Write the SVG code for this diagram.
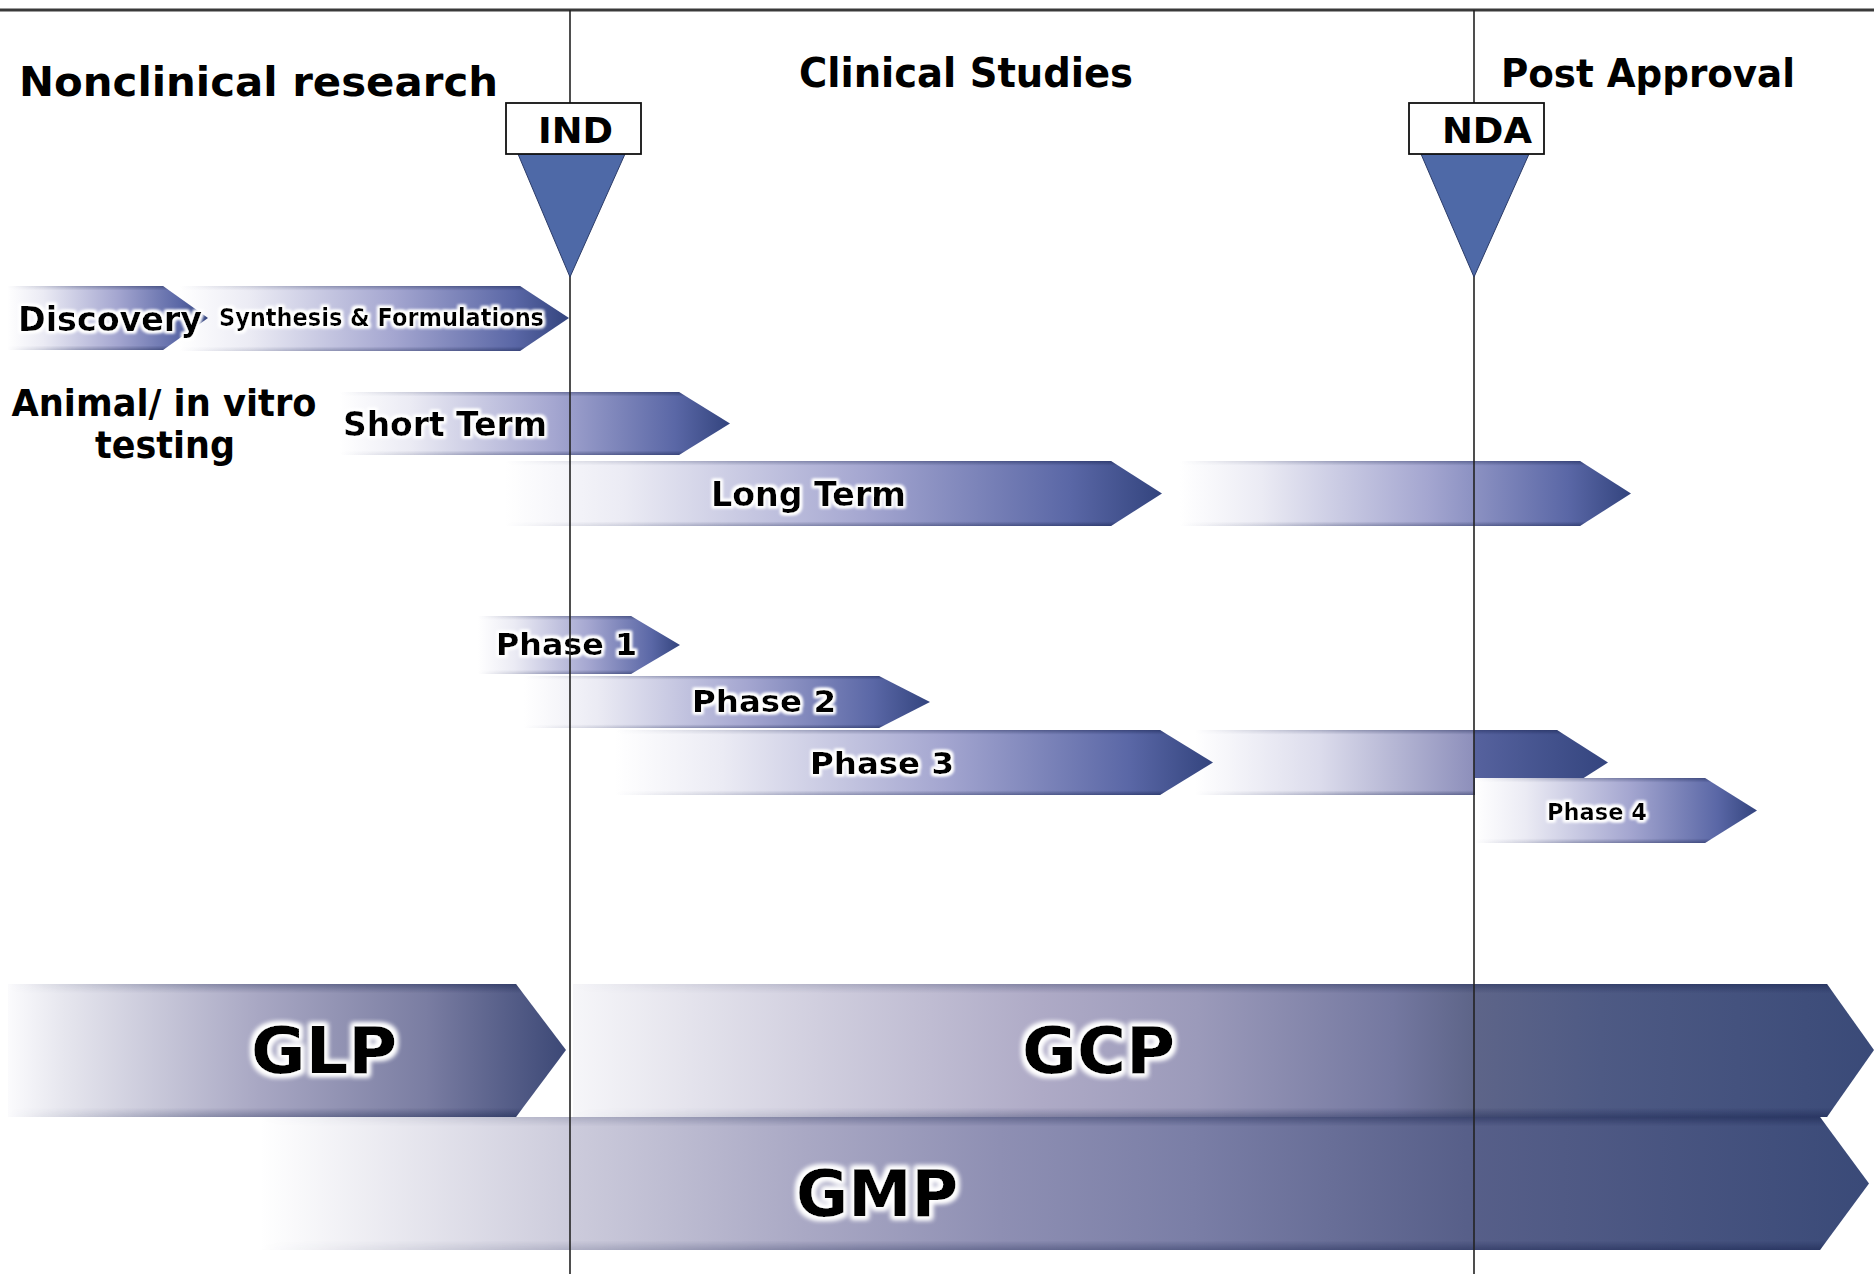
<svg xmlns="http://www.w3.org/2000/svg" width="1874" height="1274" viewBox="0 0 1874 1274">
  <style>
    .t { font-family: "DejaVu Sans", "Liberation Sans", Arial, sans-serif; font-weight: bold; fill: #000; }
    .lbl { filter: url(#glow); }
    .big { filter: url(#glowBig); }
    .edge { fill: url(#edgeShade); }
    .rule { stroke: #222; stroke-width: 1.6; fill: none; }
    .mark { fill: #4e69a7; stroke: #2b3b68; stroke-width: 1; }
    .box { fill: #fff; stroke: #111; stroke-width: 1.8; }
  </style>
  <defs>
    <!-- small phase bars: white to blue-violet to navy -->
    <linearGradient id="barGrad" x1="0" y1="0" x2="1" y2="0">
      <stop offset="0" stop-color="#ffffff"/>
      <stop offset="0.18" stop-color="#ebebf4"/>
      <stop offset="0.55" stop-color="#a4a6d0"/>
      <stop offset="0.86" stop-color="#5a67a6"/>
      <stop offset="1" stop-color="#33447e"/>
    </linearGradient>
    <linearGradient id="extGrad" x1="0" y1="0" x2="1" y2="0">
      <stop offset="0" stop-color="#ffffff"/>
      <stop offset="0.3" stop-color="#dcdcec"/>
      <stop offset="0.675" stop-color="#8d8fbb"/>
      <stop offset="0.677" stop-color="#56629e"/>
      <stop offset="1" stop-color="#34457f"/>
    </linearGradient>
    <linearGradient id="glpGrad" x1="0" y1="0" x2="1" y2="0">
      <stop offset="0" stop-color="#fbfbfd"/>
      <stop offset="0.1" stop-color="#e6e6ee"/>
      <stop offset="0.45" stop-color="#a8a7c3"/>
      <stop offset="0.75" stop-color="#7a7da2"/>
      <stop offset="1" stop-color="#3c4876"/>
    </linearGradient>
    <linearGradient id="gcpGrad" x1="0" y1="0" x2="1" y2="0">
      <stop offset="0" stop-color="#f6f6f9"/>
      <stop offset="0.36" stop-color="#aeaac6"/>
      <stop offset="0.48" stop-color="#9b9aba"/>
      <stop offset="0.63" stop-color="#7478a0"/>
      <stop offset="0.69" stop-color="#5e6589"/>
      <stop offset="0.79" stop-color="#4e5a84"/>
      <stop offset="1" stop-color="#3a4a78"/>
    </linearGradient>
    <linearGradient id="gmpGrad" x1="0" y1="0" x2="1" y2="0">
      <stop offset="0" stop-color="#ffffff"/>
      <stop offset="0.19" stop-color="#cdccdc"/>
      <stop offset="0.34" stop-color="#a9a8c4"/>
      <stop offset="0.46" stop-color="#8e8fb3"/>
      <stop offset="0.58" stop-color="#7a7ea6"/>
      <stop offset="0.75" stop-color="#575f89"/>
      <stop offset="1" stop-color="#3a4a78"/>
    </linearGradient>
    <!-- darker bevel along the top and bottom edges of each bar -->
    <linearGradient id="edgeShade" x1="0" y1="0" x2="0" y2="1">
      <stop offset="0" stop-color="#1a2550" stop-opacity="0.55"/>
      <stop offset="0.07" stop-color="#1a2550" stop-opacity="0"/>
      <stop offset="0.93" stop-color="#1a2550" stop-opacity="0"/>
      <stop offset="1" stop-color="#1a2550" stop-opacity="0.55"/>
    </linearGradient>
    <linearGradient id="fadeLum" x1="0" y1="0" x2="1" y2="0">
      <stop offset="0" stop-color="#000"/>
      <stop offset="0.35" stop-color="#888"/>
      <stop offset="1" stop-color="#fff"/>
    </linearGradient>
    <mask id="fade" maskContentUnits="objectBoundingBox">
      <rect width="1" height="1" fill="url(#fadeLum)"/>
    </mask>
    <filter id="glow" x="-8%" y="-30%" width="116%" height="160%">
      <feMorphology in="SourceAlpha" operator="dilate" radius="1.5" result="d"/>
      <feGaussianBlur in="d" stdDeviation="1.8" result="b"/>
      <feFlood flood-color="#ffffff"/>
      <feComposite in2="b" operator="in" result="g"/>
      <feMerge><feMergeNode in="g"/><feMergeNode in="g"/><feMergeNode in="SourceGraphic"/></feMerge>
    </filter>
    <filter id="glowBig" x="-10%" y="-30%" width="120%" height="160%">
      <feMorphology in="SourceAlpha" operator="dilate" radius="2.5" result="d"/>
      <feGaussianBlur in="d" stdDeviation="2.5" result="b"/>
      <feFlood flood-color="#ffffff"/>
      <feComposite in2="b" operator="in" result="g"/>
      <feMerge><feMergeNode in="g"/><feMergeNode in="g"/><feMergeNode in="SourceGraphic"/></feMerge>
    </filter>
  </defs>

  <rect width="1874" height="1274" fill="#ffffff"/>

  <!-- section headings -->
  <g id="title-nonclinical">
    <text class="t" x="19" y="96" font-size="40" textLength="479" lengthAdjust="spacingAndGlyphs">Nonclinical research</text>
  </g>
  <g id="title-clinical">
    <text class="t" x="799" y="87" font-size="40" textLength="334" lengthAdjust="spacingAndGlyphs">Clinical Studies</text>
  </g>
  <g id="title-post">
    <text class="t" x="1501" y="87" font-size="39" textLength="294" lengthAdjust="spacingAndGlyphs">Post Approval</text>
  </g>
  <g id="title-animal">
    <text class="t" x="164" y="416" font-size="38" text-anchor="middle" textLength="305" lengthAdjust="spacingAndGlyphs">Animal/ in vitro</text>
    <text class="t" x="165" y="458" font-size="38" text-anchor="middle" textLength="140" lengthAdjust="spacingAndGlyphs">testing</text>
  </g>

  <!-- drug discovery -->
  <g id="bar-synthesis">
    <path d="M180,286 H520 L569,318 L520,351 H180 Z" fill="url(#barGrad)"/>
    <path class="edge" mask="url(#fade)" d="M180,286 H520 L569,318 L520,351 H180 Z"/>
    <text class="t lbl" x="219" y="326" font-size="24" textLength="325" lengthAdjust="spacingAndGlyphs">Synthesis &amp; Formulations</text>
  </g>
  <g id="bar-discovery">
    <path d="M7,286 H163 L208,318 L163,350 H7 Z" fill="url(#barGrad)"/>
    <path class="edge" mask="url(#fade)" d="M7,286 H163 L208,318 L163,350 H7 Z"/>
    <text class="t lbl" x="18" y="331" font-size="34" textLength="184" lengthAdjust="spacingAndGlyphs">Discovery</text>
  </g>

  <!-- animal / in vitro testing -->
  <g id="bar-short-term">
    <path d="M340,392 H679 L730,423.5 L679,455 H340 Z" fill="url(#barGrad)"/>
    <path class="edge" mask="url(#fade)" d="M340,392 H679 L730,423.5 L679,455 H340 Z"/>
    <text class="t lbl" x="343" y="436" font-size="33" textLength="204" lengthAdjust="spacingAndGlyphs">Short Term</text>
  </g>
  <g id="bar-long-term">
    <path d="M505,461 H1111 L1162,493.5 L1111,526 H505 Z" fill="url(#barGrad)"/>
    <path class="edge" mask="url(#fade)" d="M505,461 H1111 L1162,493.5 L1111,526 H505 Z"/>
    <path d="M1180,461 H1580 L1631,493.5 L1580,526 H1180 Z" fill="url(#barGrad)"/>
    <path class="edge" mask="url(#fade)" d="M1180,461 H1580 L1631,493.5 L1580,526 H1180 Z"/>
    <text class="t lbl" x="711" y="506" font-size="33" textLength="195" lengthAdjust="spacingAndGlyphs">Long Term</text>
  </g>

  <!-- clinical phases -->
  <g id="bar-phase1">
    <path d="M478,616 H631 L680,645 L631,674 H478 Z" fill="url(#barGrad)"/>
    <path class="edge" mask="url(#fade)" d="M478,616 H631 L680,645 L631,674 H478 Z"/>
    <text class="t lbl" x="496" y="655" font-size="31" textLength="141" lengthAdjust="spacingAndGlyphs">Phase 1</text>
  </g>
  <g id="bar-phase2">
    <path d="M524,676 H879 L930,702 L879,728 H524 Z" fill="url(#barGrad)"/>
    <path class="edge" mask="url(#fade)" d="M524,676 H879 L930,702 L879,728 H524 Z"/>
    <text class="t lbl" x="692" y="712" font-size="31" textLength="144" lengthAdjust="spacingAndGlyphs">Phase 2</text>
  </g>
  <g id="bar-phase3">
    <path d="M1195,730 H1557 L1608,762.5 L1557,795 H1195 Z" fill="url(#extGrad)"/>
    <path class="edge" mask="url(#fade)" d="M1195,730 H1557 L1608,762.5 L1557,795 H1195 Z"/>
    <path d="M615,730 H1160 L1213,762.5 L1160,795 H615 Z" fill="url(#barGrad)"/>
    <path class="edge" mask="url(#fade)" d="M615,730 H1160 L1213,762.5 L1160,795 H615 Z"/>
    <text class="t lbl" x="810" y="774" font-size="31" textLength="144" lengthAdjust="spacingAndGlyphs">Phase 3</text>
  </g>
  <g id="bar-phase4">
    <path d="M1475,778 H1705 L1757,810.5 L1705,843 H1475 Z" fill="url(#barGrad)"/>
    <path class="edge" mask="url(#fade)" d="M1475,778 H1705 L1757,810.5 L1705,843 H1475 Z"/>
    <text class="t lbl" x="1547" y="820" font-size="23" textLength="100" lengthAdjust="spacingAndGlyphs">Phase 4</text>
  </g>

  <!-- quality standards -->
  <g id="bar-gmp">
    <path d="M260,1117 H1820 L1869,1183.5 L1820,1250 H260 Z" fill="url(#gmpGrad)"/>
    <path class="edge" mask="url(#fade)" d="M260,1117 H1820 L1869,1183.5 L1820,1250 H260 Z"/>
    <text class="t big" x="796" y="1216" font-size="64" textLength="162" lengthAdjust="spacingAndGlyphs">GMP</text>
  </g>
  <g id="bar-glp">
    <path d="M8,984 H516 L566,1050 L516,1117 H8 Z" fill="url(#glpGrad)"/>
    <path class="edge" mask="url(#fade)" d="M8,984 H516 L566,1050 L516,1117 H8 Z"/>
    <text class="t big" x="251" y="1073" font-size="64" textLength="146" lengthAdjust="spacingAndGlyphs">GLP</text>
  </g>
  <g id="bar-gcp">
    <path d="M573,984 H1827 L1874,1050 L1827,1117 H573 Z" fill="url(#gcpGrad)"/>
    <path class="edge" mask="url(#fade)" d="M573,984 H1827 L1874,1050 L1827,1117 H573 Z"/>
    <text class="t big" x="1022" y="1073" font-size="64" textLength="153" lengthAdjust="spacingAndGlyphs">GCP</text>
  </g>

  <!-- timeline rules: header line and the IND / NDA dividers -->
  <g id="connectors">
    <line x1="0" y1="10" x2="1874" y2="10" stroke="#3a3a3a" stroke-width="3"/>
    <line class="rule" x1="570" y1="10" x2="570" y2="1274"/>
    <line class="rule" x1="1474" y1="10" x2="1474" y2="1274"/>
  </g>

  <!-- regulatory milestones -->
  <g id="milestone-ind">
    <polygon class="mark" points="518,154 625,154 570,277"/>
    <rect class="box" x="506" y="103" width="135" height="51"/>
    <text class="t" x="538" y="143" font-size="36" textLength="75" lengthAdjust="spacingAndGlyphs">IND</text>
  </g>
  <g id="milestone-nda">
    <polygon class="mark" points="1421,154 1529,154 1474,277"/>
    <rect class="box" x="1409" y="103" width="135" height="51"/>
    <text class="t" x="1442" y="143" font-size="36" textLength="90" lengthAdjust="spacingAndGlyphs">NDA</text>
  </g>
</svg>
